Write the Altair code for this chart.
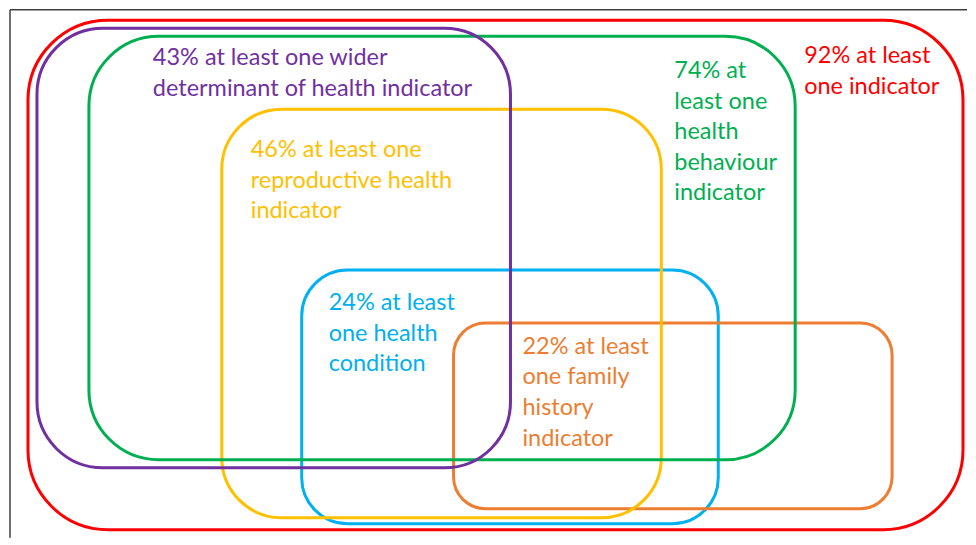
import altair as alt
import pandas as pd

# Boxes (reference pixel coordinates of each rounded rectangle)
box_names = ["92% any", "43% wider determinant", "74% health behaviour",
             "46% reproductive", "24% health condition", "22% family history"]
box_colors = ["#FF0000", "#7030A0", "#00B050", "#FFC000", "#00B0F0", "#ED7D31"]
box_x0 = [28, 37, 89, 222, 302, 454]
box_x1 = [964, 511, 796, 662, 719, 893]
box_y0 = [19, 27, 35, 108, 269, 322]
box_y1 = [529, 467, 459, 517, 523, 508]
box_radius = [80, 66, 70, 60, 46, 32]
draw_order = [0, 4, 5, 3, 2, 1]

# Labels
label_text = [
    ["92% at least", "one indicator"],
    ["43% at least one wider", "determinant of health indicator"],
    ["74% at", "least one", "health", "behaviour", "indicator"],
    ["46% at least one", "reproductive health", "indicator"],
    ["24% at least", "one health", "condition"],
    ["22% at least", "one family", "history", "indicator"],
]
label_x = [805, 153, 675, 251, 329, 523]
label_y = [62, 64, 77, 156, 309, 353]

FONT = "Lato"
FS = 23.5
LH = 30.6

xs = alt.Scale(domain=[8, 968], nice=False, zero=False)
ys = alt.Scale(domain=[8, 537], nice=False, zero=False, reverse=True)

layers = []

# frame lines
frame = pd.DataFrame({"x": [10], "x2": [968], "y": [8.5], "y2": [537]})
layers.append(
    alt.Chart(frame).mark_rule(color="#404040", strokeWidth=1.5).encode(
        x=alt.X("x:Q", scale=xs, axis=None), y=alt.Y("y:Q", scale=ys, axis=None),
        y2="y2:Q")
)
layers.append(
    alt.Chart(frame).mark_rule(color="#404040", strokeWidth=1.5).encode(
        x=alt.X("x:Q", scale=xs, axis=None), x2="x2:Q",
        y=alt.Y("y:Q", scale=ys, axis=None))
)

for i in draw_order:
    df = pd.DataFrame({"name": [box_names[i]], "x0": [box_x0[i]], "x1": [box_x1[i]],
                       "y0": [box_y0[i]], "y1": [box_y1[i]]})
    layers.append(
        alt.Chart(df).mark_rect(fillOpacity=0, stroke=box_colors[i], strokeWidth=3,
                                cornerRadius=box_radius[i]).encode(
            x=alt.X("x0:Q", scale=xs, axis=None), x2="x1:Q",
            y=alt.Y("y0:Q", scale=ys, axis=None), y2="y1:Q")
    )

for i in range(len(label_text)):
    df = pd.DataFrame({"x": [label_x[i]], "y": [label_y[i]], "t": [label_text[i]]})
    layers.append(
        alt.Chart(df).mark_text(align="left", baseline="alphabetic", font=FONT,
                                fontSize=FS, lineHeight=LH, color=box_colors[i]).encode(
            x=alt.X("x:Q", scale=xs, axis=None), y=alt.Y("y:Q", scale=ys, axis=None),
            text="t")
    )

chart = alt.layer(*layers).properties(
    width=960, height=529, padding=0, background="white"
).configure_view(stroke=None)

chart.save("out.html", embed_options={"renderer": "svg", "actions": False})
